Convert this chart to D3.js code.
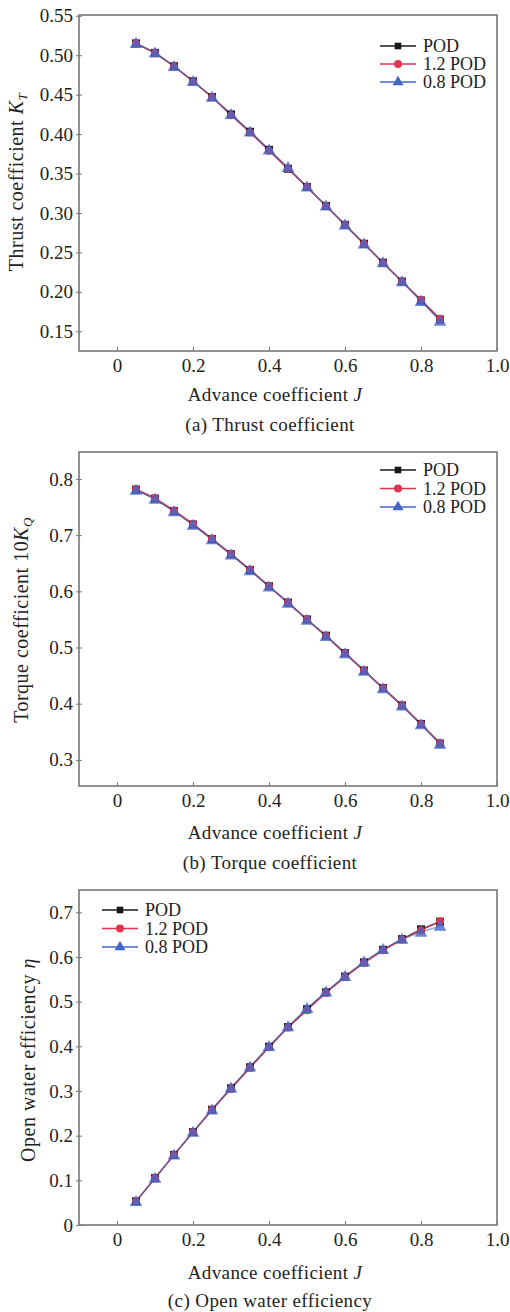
<!DOCTYPE html>
<html>
<head>
<meta charset="utf-8">
<script src="https://cdn.jsdelivr.net/npm/d3@7"></script>
<style>
  body { margin: 0; background: #fff; }
</style>
</head>
<body>
<div id="root"></div>
<script>
// advance coefficient J
const jValues = [0.05, 0.10, 0.15, 0.20, 0.25, 0.30, 0.35, 0.40, 0.45, 0.50, 0.55, 0.60, 0.65, 0.70, 0.75, 0.80, 0.85];

const seriesNames = ["POD", "1.2 POD", "0.8 POD"];

// thrust coefficient KT
const ktPod   = [0.515, 0.503, 0.486, 0.467, 0.447, 0.425, 0.403, 0.380, 0.356, 0.333, 0.309, 0.285, 0.261, 0.237, 0.213, 0.189, 0.165];
const ktPod12 = [0.515, 0.503, 0.486, 0.467, 0.447, 0.424, 0.402, 0.379, 0.356, 0.333, 0.309, 0.285, 0.261, 0.237, 0.213, 0.190, 0.166];
const ktPod08 = [0.515, 0.503, 0.486, 0.467, 0.447, 0.425, 0.403, 0.380, 0.358, 0.333, 0.309, 0.285, 0.261, 0.237, 0.213, 0.188, 0.163];

// torque coefficient 10KQ
const kqPod   = [0.781, 0.765, 0.743, 0.719, 0.693, 0.666, 0.638, 0.609, 0.580, 0.550, 0.521, 0.490, 0.459, 0.428, 0.397, 0.364, 0.329];
const kqPod12 = [0.782, 0.766, 0.744, 0.720, 0.694, 0.667, 0.639, 0.609, 0.580, 0.550, 0.521, 0.490, 0.459, 0.428, 0.397, 0.364, 0.330];
const kqPod08 = [0.780, 0.764, 0.742, 0.718, 0.692, 0.665, 0.637, 0.608, 0.579, 0.549, 0.520, 0.489, 0.458, 0.427, 0.396, 0.363, 0.328];

// open water efficiency
const etaPod   = [0.053, 0.105, 0.157, 0.208, 0.258, 0.306, 0.353, 0.399, 0.443, 0.483, 0.521, 0.556, 0.588, 0.616, 0.640, 0.662, 0.679];
const etaPod12 = [0.053, 0.105, 0.157, 0.208, 0.258, 0.305, 0.352, 0.398, 0.442, 0.481, 0.520, 0.555, 0.587, 0.615, 0.639, 0.660, 0.680];
const etaPod08 = [0.053, 0.105, 0.157, 0.208, 0.258, 0.307, 0.354, 0.400, 0.444, 0.485, 0.522, 0.557, 0.589, 0.617, 0.640, 0.656, 0.669];

const xTicks = [0, 0.2, 0.4, 0.6, 0.8, 1.0];

const FONT = "'Liberation Serif', 'Times New Roman', Times, serif";
const colors = ["#1a1a1a", "#e0334f", "#4466c8"];
const symbols = [d3.symbolSquare, d3.symbolCircle, d3.symbolTriangle];
const symSize = [44, 50, 52];

const W = 510, H = 1312;
const svg = d3.select("#root").append("svg")
    .attr("width", W).attr("height", H)
    .style("font-family", FONT);

function txt(sel) {
    return sel.style("font-family", FONT).attr("fill", "#222");
}

function drawPanel(cfg) {
    const x = d3.scaleLinear().domain([-0.1, 1.0]).range([79, 497]);
    const y = d3.scaleLinear().domain(cfg.yDomain).range([cfg.bottom, cfg.top]);
    const g = svg.append("g");

    // y ticks + labels
    g.append("g")
        .attr("transform", "translate(79,0)")
        .call(d3.axisLeft(y).tickValues(cfg.yTicks).tickFormat(d3.format(cfg.yFormat)).tickSize(3).tickPadding(4))
        .attr("font-family", null).attr("font-size", null)
        .call(a => a.select(".domain").remove())
        .call(a => a.selectAll("line").attr("stroke", "#777").attr("x2", 3).attr("x1", -3))
        .call(a => txt(a.selectAll("text")).style("font-size", "19px").attr("x", -6));

    // x ticks + labels
    g.append("g")
        .attr("transform", `translate(0,${cfg.bottom})`)
        .call(d3.axisBottom(x).tickValues(xTicks).tickFormat(d => d === 0 ? "0" : d3.format(".1f")(d)).tickSize(-4).tickPadding(8))
        .attr("font-family", null).attr("font-size", null)
        .call(a => a.select(".domain").remove())
        .call(a => a.selectAll("line").attr("stroke", "#777"))
        .call(a => txt(a.selectAll("text")).style("font-size", "19px"));

    // frame
    g.append("rect")
        .attr("x", 79).attr("y", cfg.top)
        .attr("width", 497 - 79).attr("height", cfg.bottom - cfg.top)
        .attr("fill", "none").attr("stroke", "#777").attr("stroke-width", 1.6);

    // series
    const line = d3.line().x((d, i) => x(jValues[i])).y(d => y(d));
    cfg.series.forEach((vals, k) => {
        g.append("path").datum(vals)
            .attr("d", line).attr("fill", "none")
            .attr("stroke", colors[k]).attr("stroke-width", 1.4)
            .attr("stroke-opacity", k === 2 ? 0.6 : 0.9);
    });
    cfg.series.forEach((vals, k) => {
        g.append("g").selectAll("path").data(vals).join("path")
            .attr("transform", (d, i) => `translate(${x(jValues[i])},${y(d) + (k === 2 ? 1 : 0)})`)
            .attr("d", d3.symbol(symbols[k], [64, 50, 70][k]))
            .attr("fill", colors[k])
            .attr("fill-opacity", k === 2 ? 0.8 : 1);
    });

    // legend
    const lg = g.append("g");
    seriesNames.forEach((name, k) => {
        const ly = cfg.legY + k * cfg.legStep;
        lg.append("line").attr("x1", cfg.legX).attr("x2", cfg.legX + 36)
            .attr("y1", ly).attr("y2", ly)
            .attr("stroke", colors[k]).attr("stroke-width", 1.4);
        lg.append("path")
            .attr("transform", `translate(${cfg.legX + 18},${ly})`)
            .attr("d", d3.symbol(symbols[k], symSize[k]))
            .attr("fill", colors[k]);
        txt(lg.append("text")).attr("x", cfg.legX + 43).attr("y", ly + 6)
            .style("font-size", "18px").text(name);
    });

    // axis titles
    txt(g.append("text")).attr("x", 275).attr("y", cfg.xTitleY)
        .attr("text-anchor", "middle").style("font-size", "19px").style("letter-spacing", "0.4px")
        .call(t => { t.append("tspan").text("Advance coefficient "); t.append("tspan").attr("font-style", "italic").text("J"); });

    const yt = txt(g.append("text"))
        .attr("transform", `translate(${cfg.yTitleX},${cfg.yTitleY}) rotate(-90)`)
        .attr("text-anchor", "middle").style("font-size", "20px").style("letter-spacing", "0.5px");
    cfg.yTitle(yt);

    txt(g.append("text")).attr("x", 270).attr("y", cfg.capY)
        .attr("text-anchor", "middle").style("font-size", "19px").style("letter-spacing", "0.4px").text(cfg.caption);
}

drawPanel({
    top: 15, bottom: 351, yDomain: [0.125, 0.551],
    yTicks: [0.15, 0.20, 0.25, 0.30, 0.35, 0.40, 0.45, 0.50, 0.55], yFormat: ".2f",
    series: [ktPod, ktPod12, ktPod08],
    legX: 380, legY: 46, legStep: 18,
    xTitleY: 401, capY: 431,
    yTitleX: 23, yTitleY: 182,
    yTitle: t => {
        t.append("tspan").text("Thrust coefficient ");
        t.append("tspan").attr("font-style", "italic").text("K");
        t.append("tspan").attr("font-style", "italic").style("font-size", "13px").attr("dy", 4).text("T");
    },
    caption: "(a) Thrust coefficient"
});

drawPanel({
    top: 452, bottom: 786, yDomain: [0.2535, 0.848],
    yTicks: [0.3, 0.4, 0.5, 0.6, 0.7, 0.8], yFormat: ".1f",
    series: [kqPod, kqPod12, kqPod08],
    legX: 380, legY: 470, legStep: 18.5,
    xTitleY: 839, capY: 869,
    yTitleX: 28, yTitleY: 620,
    yTitle: t => {
        t.append("tspan").text("Torque coefficient 10");
        t.append("tspan").attr("font-style", "italic").text("K");
        t.append("tspan").attr("font-style", "italic").style("font-size", "13px").attr("dy", 4).text("Q");
    },
    caption: "(b) Torque coefficient"
});

drawPanel({
    top: 890, bottom: 1225, yDomain: [0, 0.75],
    yTicks: [0, 0.1, 0.2, 0.3, 0.4, 0.5, 0.6, 0.7], yFormat: ".1~f",
    series: [etaPod, etaPod12, etaPod08],
    legX: 102, legY: 910, legStep: 18.5,
    xTitleY: 1279, capY: 1307,
    yTitleX: 35, yTitleY: 1060,
    yTitle: t => {
        t.append("tspan").text("Open water efficiency ");
        t.append("tspan").attr("font-style", "italic").text("η");
    },
    caption: "(c) Open water efficiency"
});
</script>
</body>
</html>
